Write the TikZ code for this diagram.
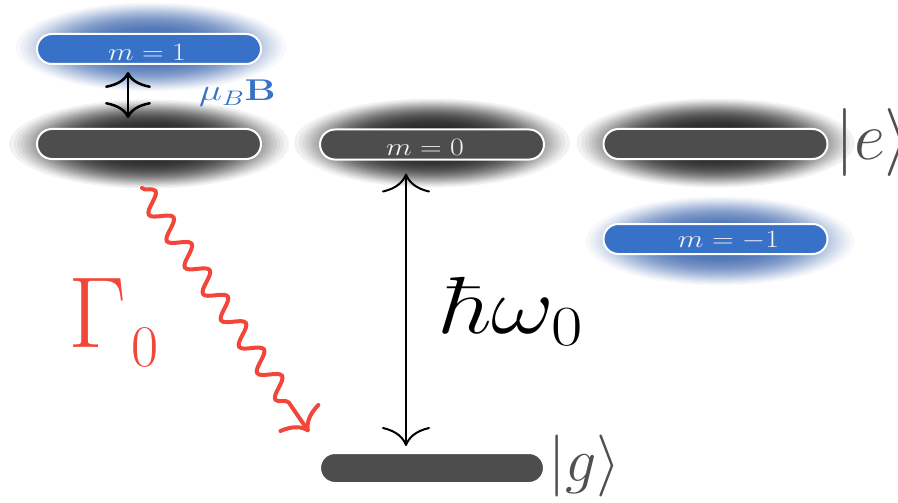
\RequirePackage{fix-cm}
\documentclass[tikz,border=0pt]{standalone}
\usetikzlibrary{arrows.meta,decorations.pathmorphing}
\definecolor{bargray}{HTML}{4D4D4D}
\definecolor{barblue}{HTML}{3871C8}
\definecolor{glowblue}{HTML}{2A58A6}
\definecolor{glowgray}{HTML}{111111}
\definecolor{decayred}{HTML}{F2463A}
\definecolor{ketgray}{HTML}{505050}
\definecolor{lblwhite}{HTML}{F2F2F2}
% soft glow: stack of translucent ellipses
\newcommand{\softglow}[6]{%
  \foreach \i in {1,...,49}{%
    \pgfmathsetmacro\glowr{sqrt(1-sqrt(\i/50))}%
    \fill[#1, opacity=#6] (#2,#3) ellipse [x radius=\glowr*#4pt, y radius=\glowr*#5pt];
  }}
\begin{document}
\begin{tikzpicture}[x=1pt,y=-1pt,
  bar/.style={draw=white, line width=2pt, rounded corners=15pt, minimum width=224pt, minimum height=30pt, inner sep=0pt},
  graybar/.style={bar, fill=bargray},
  bluebar/.style={bar, fill=barblue},
  lbl/.style={inner sep=0pt, text=lblwhite, font=\fontsize{25}{30}\selectfont},
  ket/.style={inner sep=0pt, anchor=base west, text=ketgray},
  dblarrow/.style={line width=2.5pt, arrows={Computer Modern Rightarrow[length=16pt,width=46pt]-Computer Modern Rightarrow[length=16pt,width=46pt]}},
  transarrow/.style={line width=2pt, arrows={Computer Modern Rightarrow[length=19pt,width=48pt]-Computer Modern Rightarrow[length=19pt,width=48pt]}},
  wavy/.style={draw=decayred, line width=4pt, line cap=round, arrows={-Computer Modern Rightarrow[length=19pt,width=50pt]}, decorate, decoration={snake, amplitude=9.5pt, segment length=32pt, post length=20pt}}
]
\useasboundingbox (0,0) rectangle (898,503);

% glows
\softglow{glowblue}{151}{47}{146}{48}{0.045}
\softglow{glowgray}{149}{144}{151}{48}{0.055}
\softglow{glowgray}{432}{143}{149}{48}{0.055}
\softglow{glowgray}{715.5}{143}{150}{48}{0.055}
\softglow{glowblue}{720}{241}{145}{48}{0.045}

% levels
\node[bluebar, label={[lbl, xshift=-2pt, yshift=-3pt]center:\scalebox{1.2}[1]{$m=1$}}] (mp) at (149,49) {};
\node[graybar] (eL) at (149,144) {};
\node[graybar, label={[lbl, xshift=-7pt, yshift=-2.5pt]center:\scalebox{1.2}[1]{$m=0$}}] (e0) at (432,144.5) {};
\node[graybar] (eR) at (715.5,144) {};
\node[bluebar, label={[lbl, xshift=13pt, yshift=-1pt]center:\scalebox{1.2}[1]{$m=-1$}}] (mm) at (715.5,239) {};
\node[graybar] (g) at (432,468) {};

% texts
\node[ket, font=\fontsize{68}{75}\selectfont] (kete) at (835,160) {$|e\rangle$};
\node[ket, font=\fontsize{62}{70}\selectfont] (ketg) at (548,481.5) {$|g\rangle$};
\node[inner sep=0pt, anchor=base west, font=\fontsize{81}{90}\selectfont] (hw) at (441,333) {\scalebox{1.2}[1]{$\hbar\omega_0$}};
\node[inner sep=0pt, anchor=base west, text=decayred, font=\fontsize{101}{110}\selectfont] (gam) at (68,347) {$\Gamma_{\mbox{\hspace{5pt}\raisebox{-4pt}{\fontsize{59}{60}\selectfont 0}}}$};
\node[inner sep=0pt, anchor=base west, text=barblue, font=\fontsize{30}{34}\selectfont] (muB) at (199,101) {\scalebox{1.3}[1]{$\mu_B\mathbf{B}$}};

% arrows
\draw[dblarrow] ([xshift=-21pt,yshift=-7pt]mp.south) -- ([xshift=-21pt,yshift=10pt]eL.north);
\draw[transarrow] ([xshift=-26pt,yshift=-13pt]e0.south) -- ([xshift=-26pt,yshift=6pt]g.north);
\draw[wavy] ([xshift=-7pt,yshift=-28pt]eL.south) -- ([xshift=-10pt,yshift=36pt]g.west);
\end{tikzpicture}
\end{document}
